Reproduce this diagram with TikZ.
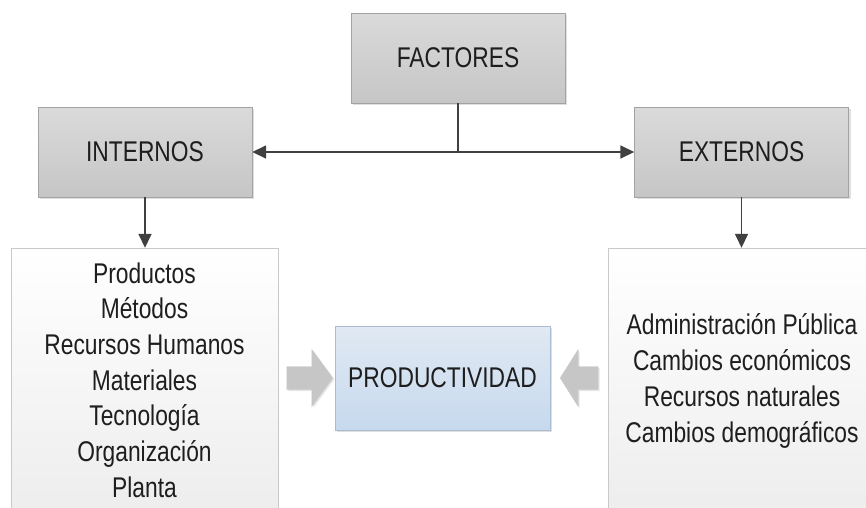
\documentclass[tikz,border=0pt]{standalone}
\usepackage{fontspec}
\setmainfont{Liberation Sans}[FakeStretch=0.8]
\usetikzlibrary{arrows.meta,shadows}
\definecolor{boxtop}{HTML}{DADADA}
\definecolor{boxbot}{HTML}{C6C6C6}
\definecolor{boxline}{HTML}{A3A3A3}
\definecolor{prodtop}{HTML}{E0E9F3}
\definecolor{prodbot}{HTML}{C7D9EE}
\definecolor{prodline}{HTML}{A9BCD2}
\definecolor{listline}{HTML}{C9C9C9}
\definecolor{linkgray}{HTML}{404040}
\definecolor{txtgray}{HTML}{1E1E1E}
\begin{document}
\begin{tikzpicture}[x=1pt,y=-1pt,>={Triangle[length=14pt,width=13pt]},
	  factor/.style={draw=boxline,top color=boxtop,bottom color=boxbot,
	    minimum width=214pt,minimum height=90pt,text=txtgray,
	    font=\fontsize{28.5}{34}\selectfont,
	    drop shadow={opacity=0.25,shadow xshift=2pt,shadow yshift=-2pt}},
	  result/.style={factor,draw=prodline,top color=prodtop,bottom color=prodbot,
	    minimum width=215pt,minimum height=104pt},
	  listbox/.style={draw=listline,top color=white,bottom color=black!7,
	    text=txtgray,align=center,font=\fontsize{28.5}{35.7}\selectfont},
	  link/.style={draw=linkgray,line width=1.6pt},
	  blockarrow/.style={draw=listline,fill=boxbot,
	    drop shadow={opacity=0.2,shadow xshift=1.5pt,shadow yshift=-1.5pt}}]
	  \useasboundingbox (0,0) rectangle (866,507);
	  \node[factor] (fact) at (458,58) {FACTORES};
	  \node[factor] (int) at (145,152) {INTERNOS};
	  \node[factor] (ext) at (741.5,152) {EXTERNOS};
	  \node[listbox,minimum width=267pt,minimum height=264pt] (lint) at (144.5,380)
	    {Productos\\Métodos\\Recursos Humanos\\Materiales\\Tecnología\\Organización\\Planta};
	  \node[listbox,minimum width=268pt,minimum height=266pt] (lext) at (742,381)
	    {Administración Pública\\Cambios económicos\\Recursos naturales\\Cambios demográficos};
	  \node[result] (prod) at (442.5,378) {PRODUCTIVIDAD};
	  \coordinate (mid) at (fact.south |- int.east);
	  \draw[link] (fact.south) -- (mid);
	  \draw[link,<->] (int.east) -- (ext.west);
	  \draw[link,->] (int.south) -- (lint.north -| int.south);
	  \draw[link,->] (ext.south) -- (lext.north -| ext.south);
	  % block arrows into productivity
	  \path[blockarrow] (prod.west) ++(-2,0) -- ++(-21,-28.5) -- ++(0,17) -- ++(-25,0)
	    -- ++(0,23) -- ++(25,0) -- ++(0,17) -- cycle;
	  \path[blockarrow] (prod.east) ++(10,0) -- ++(18,-28.5) -- ++(0,17) -- ++(20,0)
	    -- ++(0,23) -- ++(-20,0) -- ++(0,17) -- cycle;
	\end{tikzpicture}
\end{document}
